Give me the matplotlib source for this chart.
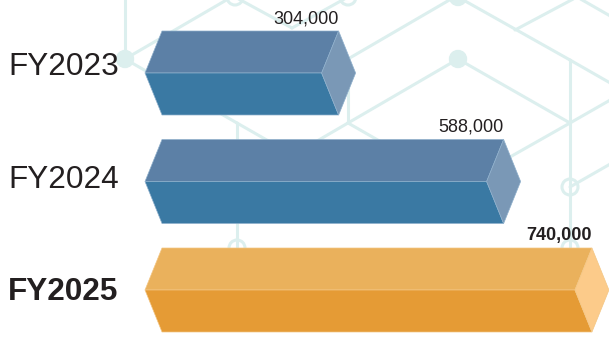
import matplotlib
matplotlib.use("Agg")
import matplotlib.pyplot as plt
from matplotlib.patches import Polygon, Circle

# ---- data -------------------------------------------------------------
years = ["FY2023", "FY2024", "FY2025"]
units = [304000, 588000, 740000]
value_labels = ["304,000", "588,000", "740,000"]
highlight = [False, False, True]

# ---- style ------------------------------------------------------------
plt.rcParams["font.family"] = ["Liberation Sans", "DejaVu Sans"]
W, H = 609, 338
TEXT = "#231f20"
NET = "#dcefee"
BLUE = {"top": "#5c80a6", "front": "#3a79a3", "end": "#7a98b6", "edge": "#8fb0cc"}
ORANGE = {"top": "#eab15c", "front": "#e59b35", "end": "#fccb8a", "edge": "#f3c684"}

fig = plt.figure(figsize=(W / 100, H / 100), dpi=100)
fig.patch.set_facecolor("white")

# ---- decorative network behind the bars (pixel space) -----------------
bg = fig.add_axes([0, 0, 1, 1], zorder=0)
bg.set_xlim(0, W)
bg.set_ylim(H, 0)
bg.axis("off")

net_lines = [
    ((125, -5), (125, 59)),
    ((125, 59), (235, -5)),
    ((125, 59), (237, 123)),
    ((235, -3), (292, 28)),
    ((292, 28), (348, -3)),
    ((237, 123), (237, 248)),
    ((237, 123), (293, 155)),
    ((348, 123), (293, 155)),
    ((348, 123), (404, 155)),
    ((348, 59), (348, 123)),
    ((348, 59), (458, -5)),
    ((458, 59), (348, 123)),
    ((458, 59), (570, 123)),
    ((458, -3), (570, 60)),
    ((515, 30), (577, -3)),
    ((577, -3), (612, 17)),
    ((570, 60), (612, 84)),
    ((570, 60), (570, 123)),
    ((570, 123), (612, 99)),
    ((570, 123), (510, 157)),
    ((570, 123), (570, 248)),
    ((570, 187), (612, 163)),
]
for (x0, y0), (x1, y1) in net_lines:
    bg.plot([x0, x1], [y0, y1], color=NET, lw=2.2, solid_capstyle="round")

for cx, cy in [(125, 59), (458, 59), (458, -3)]:
    bg.add_patch(Circle((cx, cy), 8.5, facecolor=NET, edgecolor=NET, lw=1))
for cx, cy in [(235, -3), (348, -3), (237, 248), (570, 187), (570, 248)]:
    bg.add_patch(Circle((cx, cy), 8, facecolor="white", edgecolor=NET, lw=2.2))

# ---- bar chart --------------------------------------------------------
ax = fig.add_axes([0, 0, 1, 1], zorder=1)
ax.set_facecolor("none")
ax.axis("off")

px_per_unit = 0.581 / 1000      # horizontal scale
zero_px = 162                   # where the value axis starts
row_px = 108.5                  # distance between bar centres
first_row_px = 73               # centre of the first bar from the top

ax.set_xlim(-zero_px / px_per_unit, (W - zero_px) / px_per_unit)
ax.set_ylim((H - first_row_px) / row_px, -first_row_px / row_px)

half = 42 / row_px              # half the prism height
bevel = 17 / px_per_unit        # depth of the pointed ends

for i, (v, hl) in enumerate(zip(units, highlight)):
    c = ORANGE if hl else BLUE
    top, mid, bot = i - half, i, i + half
    faces = [
        ([(-bevel, mid), (0, top), (v, top), (v - bevel, mid)], c["top"]),
        ([(-bevel, mid), (v - bevel, mid), (v, bot), (0, bot)], c["front"]),
        ([(v - bevel, mid), (v, top), (v + bevel, mid), (v, bot)], c["end"]),
    ]
    for pts, col in faces:
        ax.add_patch(Polygon(pts, closed=True, facecolor=col,
                             edgecolor=c["edge"], lw=0.5, joinstyle="miter"))

# value labels above the right end of each bar
for i, (v, lab, hl) in enumerate(zip(units, value_labels, highlight)):
    ax.annotate(lab, xy=(v, i - half), xytext=(0, 5.5), textcoords="offset points",
                ha="right", va="baseline", fontsize=13, color=TEXT,
                fontweight="bold" if hl else "normal")

# year labels on the left
label_drop_px = [2, 6, 10.5]
for i, (yr, hl, d) in enumerate(zip(years, highlight, label_drop_px)):
    ax.annotate(yr, xy=(8 / W, i), xycoords=("axes fraction", "data"),
                xytext=(0, -d * 0.72), textcoords="offset points",
                ha="left", va="baseline", fontsize=22.7, color=TEXT,
                fontweight="bold" if hl else "normal")

fig.savefig("out.png", dpi=100, facecolor="white")
